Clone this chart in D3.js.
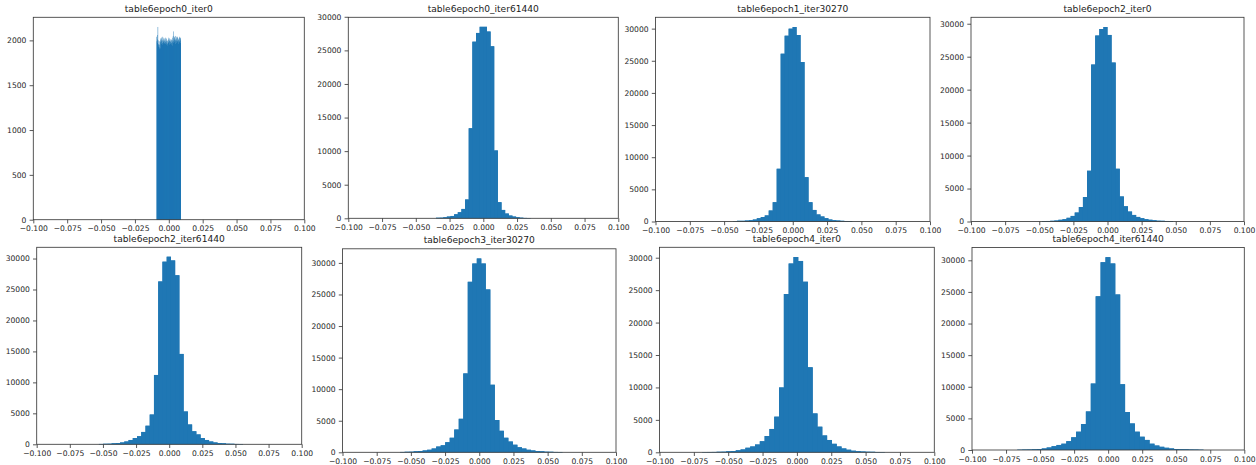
<!DOCTYPE html>
<html><head><meta charset="utf-8">
<script src="https://cdn.jsdelivr.net/npm/d3@7"></script>
<style>
body{margin:0;background:#fff}
svg{display:block}
text{font-family:"DejaVu Sans",sans-serif}
</style>
</head><body>
<svg id="chart" width="1256" height="465"></svg>
<script>
// ---------- data ----------
const titles = [
  "table6epoch0_iter0", "table6epoch0_iter61440", "table6epoch1_iter30270", "table6epoch2_iter0",
  "table6epoch2_iter61440", "table6epoch3_iter30270", "table6epoch4_iter0", "table6epoch4_iter61440"
];
const xTicks = [-0.1, -0.075, -0.05, -0.025, 0, 0.025, 0.05, 0.075, 0.1];
const yTicksSmall = [0, 500, 1000, 1500, 2000];
const yTicksLarge = [0, 5000, 10000, 15000, 20000, 25000, 30000];

// left edge of first bin and bin width for each histogram
const binStarts = [-0.009, -0.0351, -0.0436, -0.048, -0.0531, -0.0579, -0.069, -0.06676];
const binWidths = [0.00018, 0.0027, 0.0029, 0.003, 0.0032, 0.0033, 0.0035, 0.0036];

const counts0 = [
  2040,1990,2010,1970,2060,2150,2000,1950,1930,1960,
  1990,1920,1900,1950,1910,1980,2020,2000,1960,2030,
  2010,1990,2040,1970,1950,2000,2030,1990,2010,1980,
  1960,2020,2000,1970,1990,2030,1960,1980,2010,1950,
  1990,2020,1970,2000,1960,1940,1990,2010,1980,1970,
  2030,1990,1950,2000,2020,1980,1960,2010,1990,1970,
  2000,1950,2010,1980,1940,2030,2000,2050,2100,1990,
  1970,2010,2040,1980,2030,2000,2050,1960,2010,1990,
  2040,2020,1970,2000,2030,1990,2040,1980,2010,2000,
  1960,2020,2030,1980,1990,2040,2000,1970,2020,2030
];
const counts1 = [80,100,150,250,350,600,900,1400,2800,13400,26300,27600,28500,28500,27800,25600,10100,2400,1250,700,400,250,150,100,60,40];
const counts2 = [50,100,100,150,200,300,500,700,950,1700,3000,8200,26100,28900,30000,30250,29000,24800,6900,3000,1800,1100,780,520,300,200,150,100,80,60];
const counts3 = [60,80,100,150,250,350,550,850,1350,2200,3700,7700,23800,28200,29200,29500,28300,24100,8000,3800,2300,1500,1000,700,500,350,250,180,130,100,80,60];
const counts4 = [60,80,100,150,200,300,450,700,1000,1300,2000,3000,4800,11200,26300,29500,30300,29700,27300,14600,5300,3200,2100,1600,1000,700,450,300,200,150,100,80,60,50];
const counts5 = [60,80,100,150,200,300,400,600,900,1100,1600,2300,3600,5300,12500,27000,29900,30700,29900,25800,10700,5100,3400,2300,1700,1200,800,600,400,300,200,150,100,80,60,50];
const counts6 = [40,50,60,80,100,150,200,300,450,700,900,1200,1700,2500,3600,5500,10000,24400,29100,30100,29500,26300,13100,6000,3950,2600,1900,1300,900,600,400,250,180,120,90,70,50,40];
const counts7 = [50,60,80,100,150,250,400,600,800,1000,1400,2000,2900,4100,6100,10500,24300,29700,30500,29500,24600,10400,6000,4200,2900,2100,1600,1000,700,500,350,250,150,120,100,80,60,50];
const allCounts = [counts0, counts1, counts2, counts3, counts4, counts5, counts6, counts7];

// ---------- layout (axes boxes: left, top, right, bottom) ----------
const boxes = [
  [33.3, 17.3, 304.3, 219.7],
  [348.3, 17.3, 618.3, 218.3],
  [655.5, 17.3, 930.0, 221.5],
  [971.0, 17.3, 1244.0, 221.5],
  [36.7, 247.3, 301.7, 444.3],
  [342.5, 248.8, 616.0, 452.3],
  [659.5, 247.3, 934.3, 452.3],
  [972.0, 247.5, 1244.3, 450.0]
];

const BLUE = "#1f77b4";
const AX = "#3a3a3a";
const svg = d3.select("#chart");

allCounts.forEach((counts, i) => {
  const [l, t, r, b] = boxes[i];
  const bins = counts.map((c, k) => ({x0: binStarts[i] + k * binWidths[i], x1: binStarts[i] + (k + 1) * binWidths[i], c}));
  const x = d3.scaleLinear().domain([-0.1, 0.1]).range([l, r]);
  const y = d3.scaleLinear().domain([0, d3.max(counts) * 1.05]).range([b, t]);
  const g = svg.append("g");

  // step-shaped underlay (same data) so that sub-pixel seams between bars do not show
  const stepPts = bins.map(d => [d.x0, d.c]).concat([[bins[bins.length - 1].x1, bins[bins.length - 1].c]]);
  const area = d3.area().curve(d3.curveStepAfter).x(d => x(d[0])).y0(y(0)).y1(d => y(d[1]));
  g.append("path").datum(stepPts).attr("d", area).attr("fill", BLUE);

  g.append("g").selectAll("rect").data(bins).join("rect")
    .attr("x", d => x(d.x0))
    .attr("width", d => Math.max(0, x(d.x1) - x(d.x0)))
    .attr("y", d => y(d.c))
    .attr("height", d => y(0) - y(d.c))
    .attr("fill", BLUE);

  const fmtX = d3.format(".3f");
  const xAxis = d3.axisBottom(x).tickValues(xTicks).tickFormat(fmtX).tickSize(3.7).tickPadding(2.6);
  const yAxis = d3.axisLeft(y).tickValues(i === 0 ? yTicksSmall : yTicksLarge).tickFormat(d3.format("d")).tickSize(3.7).tickPadding(3.2);

  const gx = g.append("g").attr("transform", `translate(0,${b})`).call(xAxis);
  const gy = g.append("g").attr("transform", `translate(${l},0)`).call(yAxis);
  [gx, gy].forEach(a => {
    a.select(".domain").remove();
    a.selectAll(".tick line").attr("stroke", AX).attr("stroke-width", 0.85);
    a.selectAll(".tick text").attr("fill", "#262626").style("font-size", "7.6px").style("font-family", "'DejaVu Sans', sans-serif");
  });

  // frame (spines)
  g.append("rect").attr("x", l).attr("y", t).attr("width", r - l).attr("height", b - t)
    .attr("fill", "none").attr("stroke", AX).attr("stroke-width", 0.85);

  g.append("text").attr("x", (l + r) / 2).attr("y", t - 5.8)
    .attr("text-anchor", "middle").attr("fill", "#1a1a1a")
    .style("font-size", "9.1px").text(titles[i]);
});
</script>
</body></html>
